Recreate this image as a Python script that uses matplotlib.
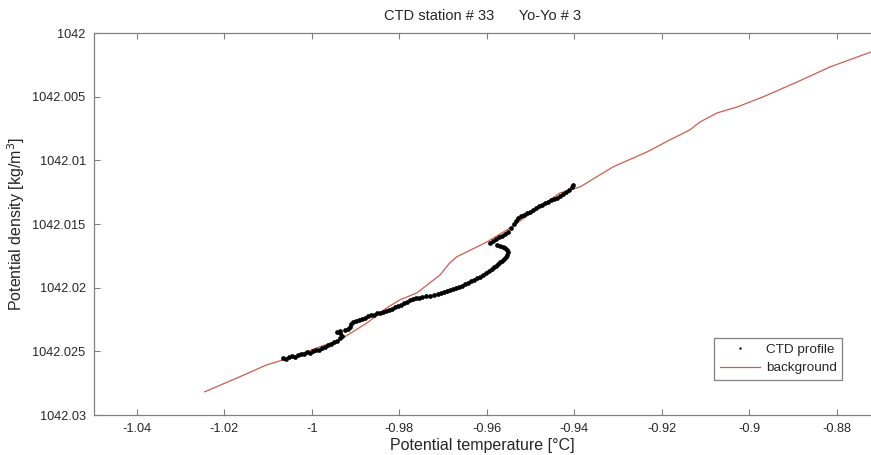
import matplotlib
matplotlib.use("Agg")
import matplotlib.pyplot as plt

plt.rcParams['font.family'] = ['Liberation Sans', 'DejaVu Sans']

# background curve (potential temperature, potential density)
bg_temp = [-1.0245, -1.0165, -1.0103, -1.0050, -0.9989, -0.9936, -0.9874, -0.9829,
           -0.9799, -0.9760, -0.9707, -0.9685, -0.9669, -0.9646, -0.9600, -0.9554,
           -0.9495, -0.9433, -0.9387, -0.9312, -0.9234, -0.9182, -0.9136, -0.9113,
           -0.9074, -0.9028, -0.8969, -0.8891, -0.8816, -0.8722]
bg_dens = [1042.02818, 1042.02700, 1042.02606, 1042.02551, 1042.02473, 1042.02410,
           1042.02277, 1042.02159, 1042.02096, 1042.02041, 1042.01900, 1042.01806,
           1042.01758, 1042.01719, 1042.01641, 1042.01546, 1042.01405, 1042.01256,
           1042.01209, 1042.01052, 1042.00934, 1042.00840, 1042.00761, 1042.00699,
           1042.00628, 1042.00581, 1042.00502, 1042.00385, 1042.00267, 1042.00149]

# CTD profile points
ctd_temp = [-1.0066, -1.0059, -1.0053, -1.0046, -1.0039, -1.0032, -1.0025, -1.0018,
            -1.0011, -1.0005, -0.9998, -0.9991, -0.9984, -0.9977, -0.9970, -0.9963,
            -0.9957, -0.9950, -0.9943, -0.9936, -0.9931, -0.9936, -0.9943, -0.9936,
            -0.9925, -0.9918, -0.9913, -0.9911, -0.9906, -0.9899, -0.9893, -0.9886,
            -0.9879, -0.9872, -0.9865, -0.9858, -0.9851, -0.9845, -0.9838, -0.9831,
            -0.9824, -0.9817, -0.9810, -0.9803, -0.9797, -0.9790, -0.9783, -0.9776,
            -0.9769, -0.9762, -0.9755, -0.9749, -0.9739, -0.9730, -0.9721, -0.9712,
            -0.9705, -0.9698, -0.9691, -0.9685, -0.9678, -0.9671, -0.9664, -0.9657,
            -0.9650, -0.9643, -0.9637, -0.9630, -0.9623, -0.9616, -0.9609, -0.9602,
            -0.9595, -0.9589, -0.9584, -0.9579, -0.9575, -0.9570, -0.9566, -0.9561,
            -0.9557, -0.9554, -0.9552, -0.9554, -0.9559, -0.9563, -0.9570, -0.9577,
            -0.9593, -0.9586, -0.9579, -0.9572, -0.9566, -0.9559, -0.9552, -0.9545,
            -0.9538, -0.9534, -0.9529, -0.9522, -0.9515, -0.9509, -0.9502, -0.9495,
            -0.9488, -0.9481, -0.9474, -0.9467, -0.9461, -0.9454, -0.9447, -0.9440,
            -0.9433, -0.9426, -0.9419, -0.9413, -0.9406, -0.9403]
ctd_dens = [1042.02551, 1042.02559, 1042.02543, 1042.02536, 1042.02543, 1042.02528,
            1042.02520, 1042.02520, 1042.02504, 1042.02512, 1042.02496, 1042.02489,
            1042.02489, 1042.02473, 1042.02465, 1042.02449, 1042.02441, 1042.02426,
            1042.02418, 1042.02394, 1042.02379, 1042.02355, 1042.02347, 1042.02339,
            1042.02331, 1042.02324, 1042.02308, 1042.02284, 1042.02269, 1042.02261,
            1042.02253, 1042.02245, 1042.02237, 1042.02222, 1042.02214, 1042.02214,
            1042.02198, 1042.02198, 1042.02190, 1042.02182, 1042.02174, 1042.02167,
            1042.02151, 1042.02143, 1042.02135, 1042.02120, 1042.02112, 1042.02096,
            1042.02088, 1042.02080, 1042.02080, 1042.02072, 1042.02065, 1042.02065,
            1042.02057, 1042.02049, 1042.02041, 1042.02033, 1042.02025, 1042.02017,
            1042.02010, 1042.02002, 1042.01994, 1042.01986, 1042.01970, 1042.01963,
            1042.01947, 1042.01939, 1042.01923, 1042.01915, 1042.01900, 1042.01884,
            1042.01868, 1042.01853, 1042.01837, 1042.01829, 1042.01813, 1042.01798,
            1042.01790, 1042.01774, 1042.01758, 1042.01743, 1042.01719, 1042.01703,
            1042.01688, 1042.01680, 1042.01672, 1042.01664,
            1042.01649, 1042.01633, 1042.01617, 1042.01601, 1042.01594, 1042.01578,
            1042.01562, 1042.01531, 1042.01499, 1042.01476, 1042.01452, 1042.01437,
            1042.01429, 1042.01413, 1042.01405, 1042.01389, 1042.01374, 1042.01358,
            1042.01350, 1042.01335, 1042.01327, 1042.01311, 1042.01303, 1042.01295,
            1042.01280, 1042.01264, 1042.01248, 1042.01232, 1042.01209, 1042.01193]

x_ticks = [-1.04, -1.02, -1.0, -0.98, -0.96, -0.94, -0.92, -0.90, -0.88]
x_tick_labels = ['-1.04', '-1.02', '-1', '-0.98', '-0.96', '-0.94', '-0.92', '-0.9', '-0.88']
y_ticks = [1042.0, 1042.005, 1042.01, 1042.015, 1042.02, 1042.025, 1042.03]
y_tick_labels = ['1042', '1042.005', '1042.01', '1042.015', '1042.02', '1042.025', '1042.03']

fig = plt.figure(figsize=(8.71, 4.55), dpi=100)
ax = fig.add_axes([94/871, 40/455, 777/871, 382/455])

axis_col = '#808080'
text_col = '#262626'

ax.plot(ctd_temp, ctd_dens, linestyle='none', marker='o', markersize=3.4,
        markeredgewidth=0, color='black', label='CTD profile', zorder=3)
ax.plot(bg_temp, bg_dens, color='#cc5c54', linewidth=0.9, label='background', zorder=2)

ax.set_xlim(-1.0498, -0.8722)
ax.set_ylim(1042.03, 1042.0)
ax.set_xticks(x_ticks)
ax.set_xticklabels(x_tick_labels)
ax.set_yticks(y_ticks)
ax.set_yticklabels(y_tick_labels)

ax.tick_params(direction='in', length=4, width=0.8, color=axis_col,
               labelcolor=text_col, labelsize=9.2, top=True, right=False, pad=6)
for side in ['left', 'bottom', 'top']:
    ax.spines[side].set_color(axis_col)
    ax.spines[side].set_linewidth(0.9)
ax.spines['right'].set_visible(False)

ax.set_xlabel('Potential temperature [°C]', fontsize=11.5, color=text_col, labelpad=2)
ax.set_ylabel('Potential density [kg/m$^3$]', fontsize=11.5, color=text_col)
ax.yaxis.set_label_coords(-0.086, 0.5)
ax.set_title('CTD station # 33      Yo-Yo # 3', fontsize=10.5, color=text_col, pad=9)

leg = ax.legend(loc='lower right', bbox_to_anchor=(0.963, 0.092), fontsize=9.7,
                frameon=True, fancybox=False, edgecolor=axis_col, framealpha=1,
                handlelength=3.0, borderpad=0.4, labelspacing=0.45, handletextpad=0.45,
                borderaxespad=0, markerscale=0.5)
leg.get_frame().set_linewidth(0.9)
for t in leg.get_texts():
    t.set_color(text_col)

fig.savefig('out.png', dpi=100)
